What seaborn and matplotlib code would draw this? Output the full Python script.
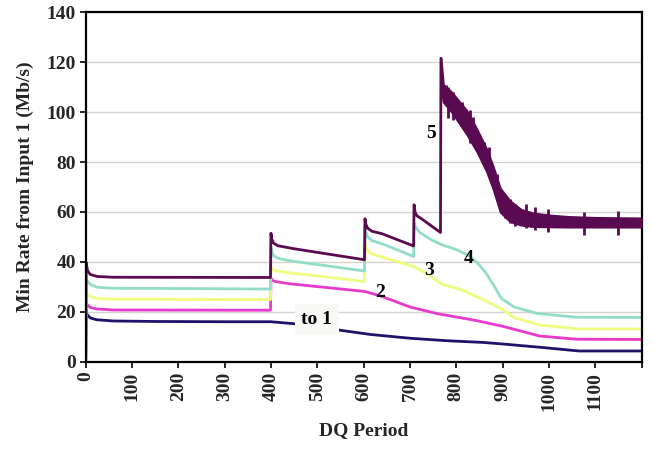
import matplotlib
matplotlib.use("Agg")
import matplotlib.pyplot as plt
import numpy as np
import pandas as pd
import seaborn as sns

# ---- minimum rate from input 1, per destination queue (Mb/s) ----
q1_x = [0, 1, 4, 10, 24, 60, 150, 300, 400, 450, 530, 615, 700, 780, 860, 900, 980, 1065, 1199]
q1_y = [0, 19.5, 18.8, 17.6, 16.9, 16.4, 16.2, 16.1, 16.1, 15.3, 13.2, 11.0, 9.5, 8.5, 7.8, 7.2, 5.9, 4.4, 4.4]

q2_x = [0, 1, 4, 10, 25, 60, 399, 400, 402, 406, 415, 440, 603, 640, 700, 760, 840, 900, 980, 1060, 1199]
q2_y = [0, 23.5, 22.8, 21.8, 21.2, 20.8, 20.7, 33.5, 33.0, 32.4, 32.0, 31.3, 28.2, 26.2, 22.0, 19.3, 16.7,
        14.3, 10.4, 9.1, 9.0]

q3_x = [0, 1, 4, 10, 25, 60, 399, 400, 402, 406, 415, 440, 602, 603, 605, 609, 618, 640, 708, 735, 770,
        810, 860, 900, 925, 980, 1065, 1199]
q3_y = [0, 28.0, 27.2, 26.2, 25.4, 25.1, 25.0, 38.2, 37.5, 36.8, 36.2, 35.7, 32.2, 47.5, 46.0, 44.5, 43.2,
        42.0, 38.2, 35.5, 31.0, 29.0, 24.8, 21.0, 17.8, 14.8, 13.2, 13.2]

q4_x = [0, 1, 4, 10, 25, 60, 399, 400, 402, 406, 415, 440, 602, 603, 605, 609, 618, 640, 708, 709, 712,
        720, 745, 770, 800, 825, 845, 862, 880, 897, 925, 975, 1060, 1199]
q4_y = [0, 33.0, 32.4, 31.0, 29.9, 29.5, 29.2, 45.5, 44.0, 42.5, 41.5, 40.5, 36.4, 54.2, 52.0, 50.0, 48.5,
        47.3, 42.2, 55.5, 54.0, 52.0, 49.0, 46.8, 45.0, 42.8, 39.8, 36.2, 31.0, 25.5, 22.0, 19.4, 17.9, 17.8]

q5_x = [0, 1, 4, 10, 25, 60, 399, 400, 402, 406, 415, 450, 602, 603, 605, 609, 618, 640, 708, 709, 711,
        715, 725, 766, 767]
q5_y = [0, 39.8, 36.5, 35.0, 34.2, 33.9, 33.8, 51.5, 49.0, 47.5, 46.5, 45.3, 40.9, 57.3, 55.0, 53.5, 52.3,
        51.3, 46.4, 62.9, 60.0, 58.5, 57.3, 51.8, 121.5]

# queue 5 oscillates rapidly after period 767: upper / lower edges of the band
q5_band_x = [767, 772, 790, 823, 845, 866, 880, 895, 916, 940, 966, 1000, 1040, 1100, 1199]
q5_band_hi = [121.5, 111.0, 108.0, 100.5, 93.0, 85.0, 78.0, 69.5, 64.5, 61.0, 59.6, 58.8, 58.2, 57.8, 57.6]
q5_band_lo = [110.0, 104.0, 100.0, 91.0, 84.0, 76.0, 69.0, 60.0, 56.2, 54.8, 54.2, 54.1, 54.0, 54.0, 54.0]

# isolated excursions beyond the band
q5_spike_x = [778, 783, 794, 812, 830, 837, 860, 870, 888, 906, 916, 927, 951, 970, 999, 1075, 1150]
q5_spike_lo = [103, 97.5, 97, 96, 87.6, 89, 79, 76, 66, 57.6, 55.6, 54.2, 53.4, 52.6, 51.8, 50.9, 50.9]
q5_spike_hi = [111, 110, 108, 104, 101, 98, 88, 86, 75, 66, 65, 63, 63.3, 62, 61.2, 60.0, 60.2]

series_names = ["to 1", "2", "3", "4", "5"]
series_colors = ["#22106a", "#e63acc", "#eefc80", "#93dcc8", "#5a0a50"]
label_x = [499, 636, 742, 826, 746]
label_y = [17.1, 27.8, 36.5, 41.5, 91.6]

x_ticks = list(range(0, 1201, 100))
x_tick_labels = [str(v) for v in range(0, 1101, 100)] + [""]
y_ticks = list(range(0, 141, 20))

frames = []
for name, xs, ys in zip(series_names,
                        [q1_x, q2_x, q3_x, q4_x, q5_x],
                        [q1_y, q2_y, q3_y, q4_y, q5_y]):
    frames.append(pd.DataFrame({"period": xs, "rate": ys, "queue": name}))
df = pd.concat(frames, ignore_index=True)

sns.set_theme(style="white")
plt.rcParams["font.family"] = ["Liberation Serif", "DejaVu Serif"]
plt.rcParams["font.weight"] = "bold"

fig = plt.figure(figsize=(6.53, 4.5), dpi=100)
ax = fig.add_axes([0.1312, 0.1956, 0.8512, 0.7777])

for y in y_ticks[1:]:
    ax.axhline(y, color="#d6d3cc", lw=1.0, zorder=0)

palette = dict(zip(series_names, series_colors))
sns.lineplot(data=df, x="period", y="rate", hue="queue", hue_order=series_names,
             palette=palette, estimator=None, sort=False, lw=2.0, legend=False, ax=ax)

c5 = series_colors[4]
ax.fill_between(q5_band_x, q5_band_lo, q5_band_hi, color=c5, lw=1.5, edgecolor=c5, zorder=3)
ax.vlines(q5_spike_x, q5_spike_lo, q5_spike_hi, color=c5, lw=2.0, zorder=3)

for name, lx, ly in zip(series_names, label_x, label_y):
    kw = {}
    if name == "to 1":
        kw["bbox"] = dict(boxstyle="square,pad=0.35", facecolor="#f8f8f6", edgecolor="none")
    ax.text(lx, ly, name, ha="center", va="center", fontsize=14, fontweight="bold",
            color="black", zorder=5, **kw)

ax.set_xlim(0, 1200)
ax.set_ylim(0, 140)
ax.set_xticks(x_ticks)
ax.set_xticklabels(x_tick_labels, rotation=90, fontsize=14, fontweight="bold")
ax.set_yticks(y_ticks)
ax.set_yticklabels([str(v) for v in y_ticks], fontsize=14, fontweight="bold")
ax.tick_params(axis="both", direction="out", length=4, width=1.2, color="black", pad=3,
               bottom=True, left=True)
ax.set_xlabel("DQ Period", fontsize=14, fontweight="bold", labelpad=8)
ax.set_ylabel("Min Rate from Input 1 (Mb/s)", fontsize=14, fontweight="bold", labelpad=9)
for side in ["left", "right", "top", "bottom"]:
    ax.spines[side].set_visible(True)
    ax.spines[side].set_color("black")
    ax.spines[side].set_linewidth(1.6)

fig.savefig("out.png", dpi=100)
